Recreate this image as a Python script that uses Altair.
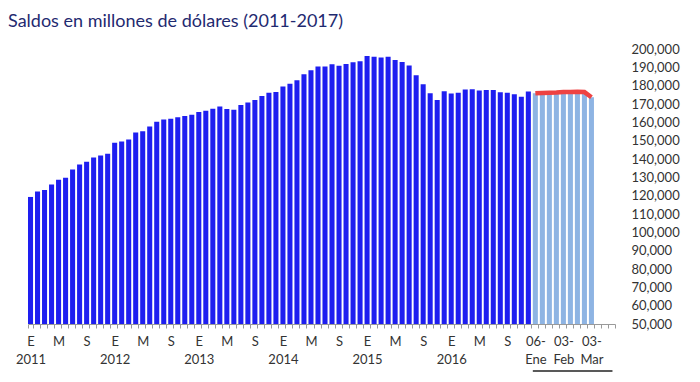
import json
import altair as alt
import pandas as pd

# Monthly balances, Jan 2011 - Dec 2016 (millions of USD)
monthly_values = [
    119300, 122300, 123100, 126100, 128700, 129800, 134300, 137000, 138500, 140800, 141900, 142800,
    148800, 149500, 150600, 154400, 155200, 157700, 160300, 161500, 161900, 162800, 163500, 164100,
    165700, 166300, 167400, 168600, 167300, 166800, 169400, 170800, 172200, 174400, 176200, 176600,
    179500, 181100, 183000, 186200, 188400, 190400, 190400, 191700, 190800, 191800, 192800, 193300,
    196200, 195800, 195400, 195800, 194000, 192900, 191000, 185700, 180800, 175900, 172200, 176900,
    175700, 176200, 177900, 178100, 177300, 177700, 177700, 176400, 176200, 175300, 174000, 176800,
]
# Weekly balances 2017 (06-Ene ... 03-Mar)
weekly_values = [175800, 176000, 176200, 176300, 176500, 176600, 176700, 176500, 173700]
n_empty_weeks = 3

month_letters = ["E", "", "", "", "M", "", "", "", "S", "", "", ""]
years = ["2011", "2012", "2013", "2014", "2015", "2016"]
week_labels = {0: ["06-", "Ene"], 4: ["03-", "Feb"], 8: ["03-", "Mar"]}
y_ticks = list(range(50000, 200001, 10000))

title_text = "Saldos en millones de dólares (2011-2017)"

# ---- build tables ----
labels = []
rows = []
for i, v in enumerate(monthly_values):
    m = i % 12
    if m == 0:
        labels.append([month_letters[m], years[i // 12]])
    else:
        labels.append(month_letters[m])
    rows.append({"idx": i, "value": v, "kind": "m"})
n_m = len(monthly_values)
for j, v in enumerate(weekly_values):
    labels.append(week_labels.get(j, ""))
    rows.append({"idx": n_m + j, "value": v, "kind": "w"})
for k in range(n_empty_weeks):
    labels.append("")
n_total = len(labels)

df = pd.DataFrame(rows)
df_w = df[df["kind"] == "w"]
df_u = pd.DataFrame({"idx": [n_m], "idx2": [n_total - 1]})

font = "Lato"
x_scale = alt.Scale(domain=list(range(n_total)), paddingInner=0.28, paddingOuter=0)
y_scale = alt.Scale(domain=[50000, 200000], nice=False, zero=False)

x_axis = alt.Axis(
    title=None, labelExpr=json.dumps(labels) + "[datum.value]", labelAngle=0,
    tickBand="extent", tickSize=4, tickColor="#9a9a9a", domainColor="#9a9a9a",
    labelFontSize=13, labelColor="#333333", labelPadding=7, labelLineHeight=18,
    labelOverlap=False, labelFont=font, labelBaseline="top", labelFlush=False,
)
y_axis = alt.Axis(
    orient="right", values=y_ticks, format=",d", title=None,
    domain=False, ticks=False, grid=False, labelPadding=16, labelAlign="left",
    labelFontSize=13, labelColor="#333333", labelFont=font, labelOverlap=False,
    labelFlush=False, labelBound=False,
)

bars = alt.Chart(df).mark_bar().encode(
    x=alt.X("idx:O", scale=x_scale, axis=x_axis),
    y=alt.Y("value:Q", scale=y_scale, axis=y_axis),
    y2=alt.datum(50000),
    color=alt.Color("kind:N", scale=alt.Scale(domain=["m", "w"], range=["#1E1EF0", "#8EB4E3"]), legend=None),
)

line = alt.Chart(df_w).mark_line(color="#EE4242", strokeWidth=4.5).encode(
    x=alt.X("idx:O", scale=x_scale, axis=x_axis),
    y=alt.Y("value:Q", scale=y_scale, axis=y_axis),
)

underline = alt.Chart(df_u).mark_rule(color="#222222", strokeWidth=1.5).encode(
    x=alt.X("idx:O", bandPosition=0, scale=x_scale, axis=x_axis),
    x2=alt.X2("idx2:O"),
    y=alt.value(322),
)

chart = alt.layer(bars, line, underline).properties(
    width=587, height=275,
    title=alt.TitleParams(title_text, anchor="start", frame="group", dx=-20, fontSize=18,
                          font=font, color="#1F2A70", fontWeight="normal", offset=12),
    autosize=alt.AutoSizeParams(type="none"),
    padding={"left": 20, "top": 41, "right": 68, "bottom": 48},
).configure_view(stroke=None).configure_axis(labelOverlap=False)

chart.save("out.html", embed_options={"renderer": "svg", "actions": False})
